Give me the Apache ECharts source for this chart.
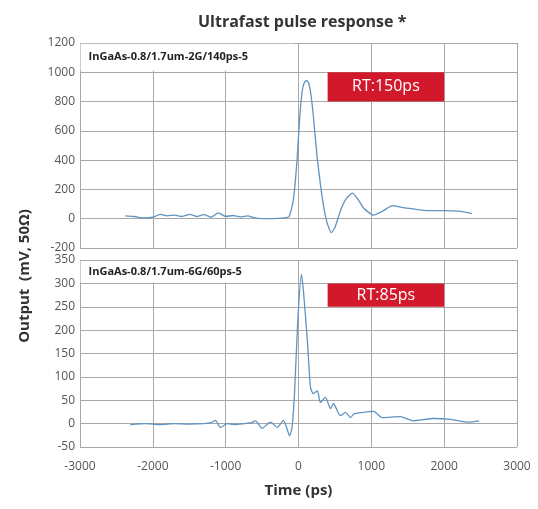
<!DOCTYPE html>
<html>
<head>
<meta charset="utf-8">
<script src="https://cdn.jsdelivr.net/npm/echarts@6/dist/echarts.min.js"></script>
<style>
  html, body { margin: 0; padding: 0; background: #fff; }
  #container { width: 538px; height: 509px; }
</style>
</head>
<body>
<div id="container"></div>
<script>
// 2G / 140ps device
var topTime = [-2380, -2250, -2130, -2000, -1900, -1800, -1700, -1600, -1490, -1400, -1300, -1200, -1100, -1000, -900, -800, -700, -600, -500, -400, -300, -200, -130, -70, -20, 15, 50, 80, 110, 140, 170, 200, 230, 260, 300, 330, 365, 400, 450, 500, 580, 660, 740, 820, 900, 1030, 1150, 1290, 1440, 1600, 1770, 2000, 2230, 2380];
var topValues = [20, 15, 5, 10, 30, 20, 25, 15, 30, 15, 28, 10, 40, 15, 22, 12, 20, 5, 0, 0, 2, 5, 15, 130, 400, 680, 870, 930, 945, 925, 850, 720, 560, 400, 240, 130, 30, -40, -95, -60, 60, 140, 175, 130, 70, 25, 50, 90, 75, 65, 55, 55, 50, 35];

// 6G / 60ps device
var bottomTime = [-2310, -2100, -1900, -1700, -1500, -1300, -1200, -1140, -1070, -980, -880, -750, -650, -590, -500, -385, -290, -206, -160, -124, -90, -55, -10, 40, 70, 125, 165, 205, 260, 300, 370, 440, 480, 575, 645, 715, 760, 890, 1030, 1150, 1400, 1570, 1850, 2090, 2340, 2480];
var bottomValues = [-2, 0, -2, 0, -1, 0, 2, 7, -8, 0, -2, 0, 2, 6, -10, 3, -8, 7, -10, -26, -10, 64, 220, 320, 280, 170, 77, 64, 70, 45, 56, 32, 43, 17, 24, 13, 21, 24, 26, 13, 15, 6, 11, 9, 3, 6];

var topLabel = 'InGaAs-0.8/1.7um-2G/140ps-5';
var bottomLabel = 'InGaAs-0.8/1.7um-6G/60ps-5';
var topRT = 'RT:150ps';
var bottomRT = 'RT:85ps';

function pairs(xs, ys) {
  return xs.map(function (x, i) { return [x, ys[i]]; });
}

var gridColor = '#a8a8a8';
var lineColor = '#5f93c0';
var labelStyle = { color: '#555', fontSize: 12, fontFamily: 'Open Sans', formatter: function (v) { return String(v); } };

function xAxisOf(idx, showLabels) {
  return {
    type: 'value', gridIndex: idx, min: -3000, max: 3000, interval: 1000,
    axisLine: { show: false }, axisTick: { show: false },
    axisLabel: Object.assign({ show: showLabels, margin: 14 }, labelStyle),
    splitLine: { show: true, lineStyle: { color: gridColor, width: 1 } },
    name: showLabels ? 'Time (ps)' : '', nameLocation: 'middle', nameGap: 36,
    nameTextStyle: { fontSize: 15, fontWeight: 'bold', color: '#333', fontFamily: 'Open Sans' }
  };
}

function yAxisOf(idx, min, max, step) {
  return {
    type: 'value', gridIndex: idx, min: min, max: max, interval: step,
    axisLine: { show: false }, axisTick: { show: false },
    axisLabel: Object.assign({ margin: 5 }, labelStyle),
    splitLine: { show: true, lineStyle: { color: gridColor, width: 1 } }
  };
}

function headerArea(label, x0, x1, y0, y1) {
  return [{
    xAxis: x0, yAxis: y0,
    itemStyle: { color: '#fff' },
    label: { show: true, position: 'insideLeft', formatter: label, color: '#222',
      fontSize: 11, fontWeight: 'bold', fontFamily: 'Open Sans', distance: 8 }
  }, { xAxis: x1, yAxis: y1 }];
}

function rtArea(label, y0, y1) {
  return [{
    xAxis: 400, yAxis: y0,
    itemStyle: { color: '#d2182b' },
    label: { show: true, position: 'inside', formatter: label, color: '#fff',
      fontSize: 16, fontFamily: 'Open Sans' }
  }, { xAxis: 2000, yAxis: y1 }];
}

var myChart = echarts.init(document.getElementById('container'));
var option = {
  animation: false,
  backgroundColor: '#fff',
  title: {
    text: 'Ultrafast pulse response *', left: 193, top: 9,
    textStyle: { fontSize: 16, fontWeight: 'bold', color: '#333', fontFamily: 'Open Sans' }
  },
  grid: [
    { left: 80, right: 21, top: 43, height: 205 },
    { left: 80, right: 21, top: 260, height: 187 }
  ],
  xAxis: [xAxisOf(0, false), xAxisOf(1, true)],
  yAxis: [yAxisOf(0, -200, 1200, 200), yAxisOf(1, -50, 350, 50)],
  graphic: [{
    type: 'text', x: 25, y: 276, rotation: Math.PI / 2,
    style: { text: 'Output  (mV, 50\u03A9)', fill: '#333', fontSize: 15, fontWeight: 'bold',
      fontFamily: 'Open Sans', textAlign: 'center', textVerticalAlign: 'middle' }
  }],
  series: [{
    type: 'line', xAxisIndex: 0, yAxisIndex: 0,
    data: pairs(topTime, topValues),
    showSymbol: false, smooth: 0.2,
    lineStyle: { color: lineColor, width: 1.3 },
    markArea: { silent: true, data: [headerArea(topLabel, -2992, -60, 1010, 1195), rtArea(topRT, 800, 1000)] }
  }, {
    type: 'line', xAxisIndex: 1, yAxisIndex: 1,
    data: pairs(bottomTime, bottomValues),
    showSymbol: false, smooth: 0.2,
    lineStyle: { color: lineColor, width: 1.3 },
    markArea: { silent: true, data: [headerArea(bottomLabel, -2992, -60, 302, 348), rtArea(bottomRT, 250, 300)] }
  }]
};
option && myChart.setOption(option);
</script>
</body>
</html>
